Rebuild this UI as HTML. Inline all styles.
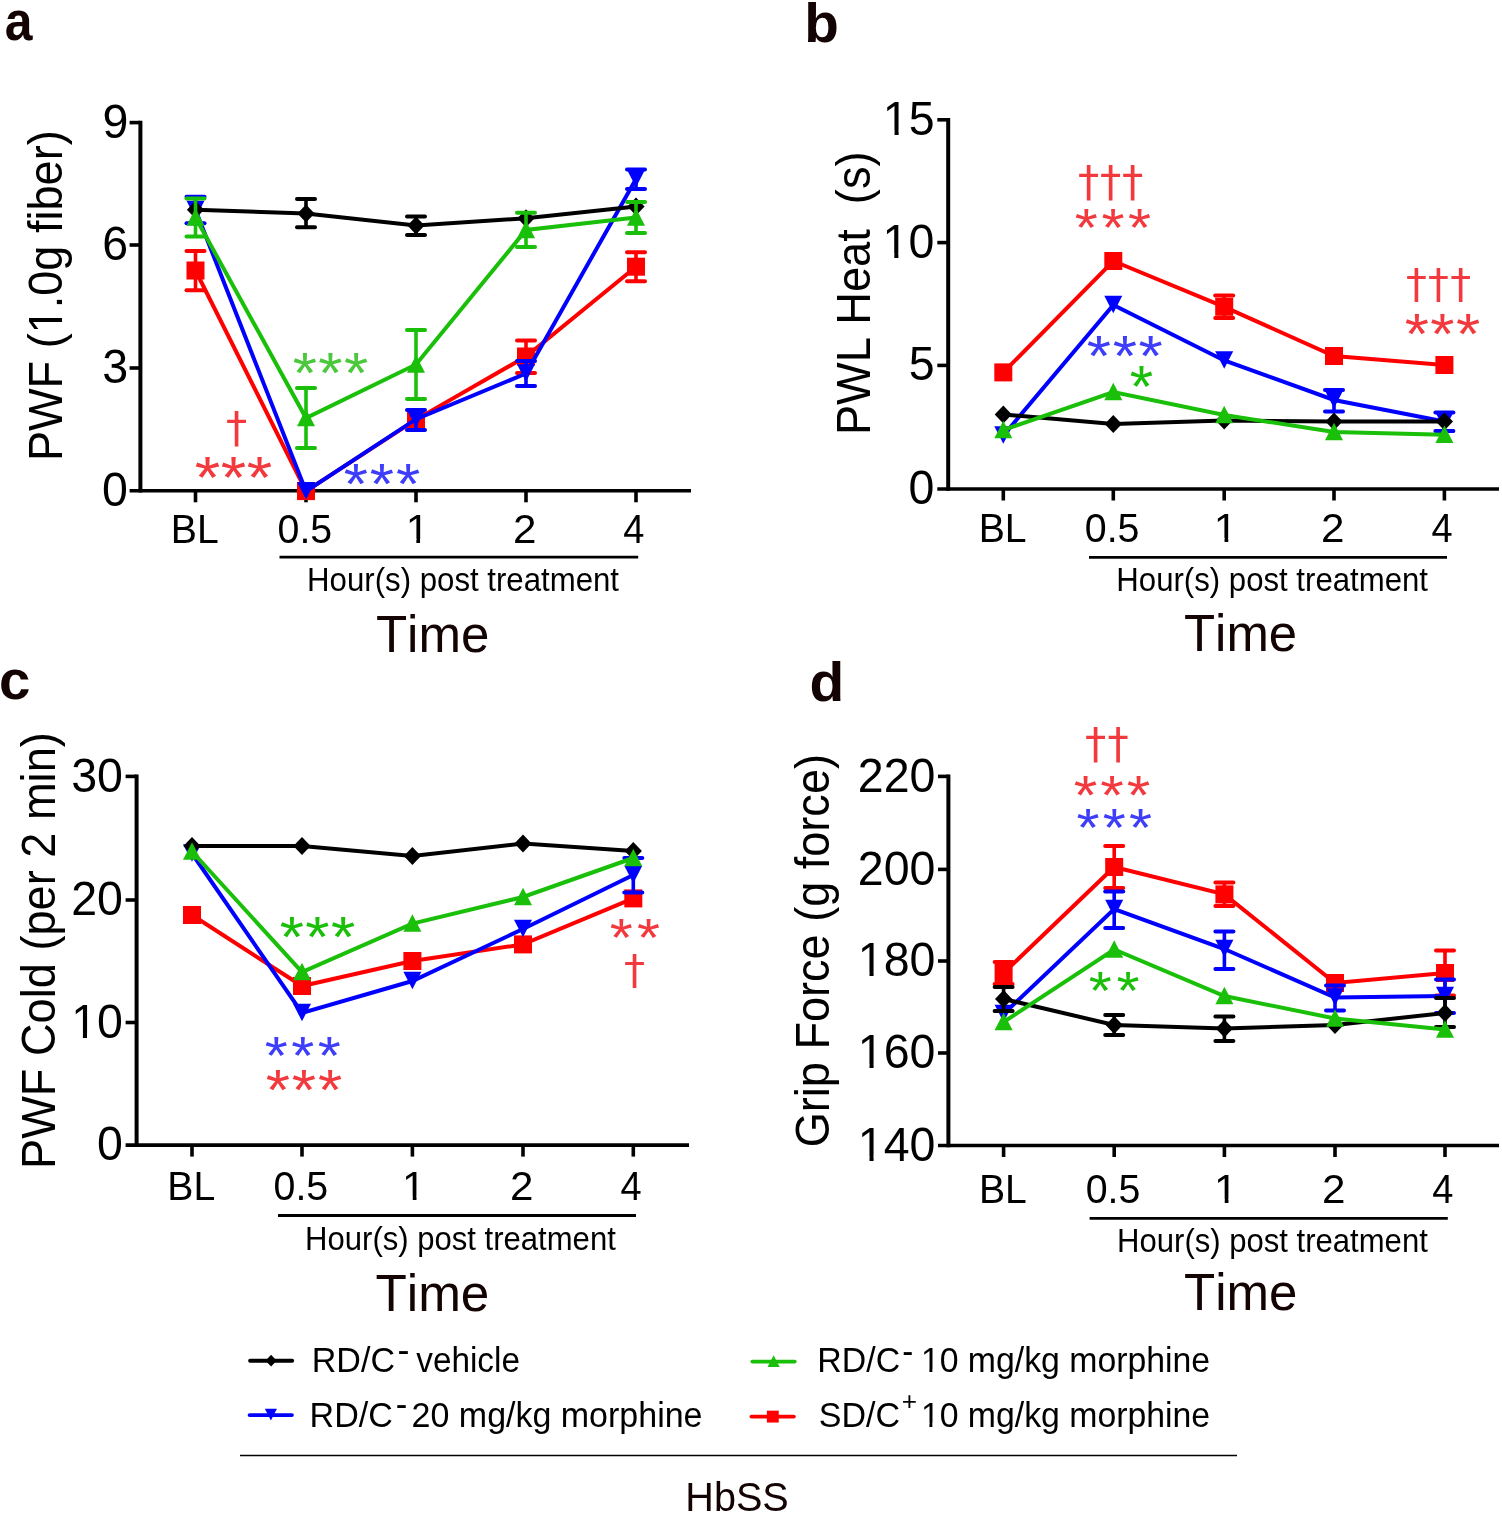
<!DOCTYPE html>
<html><head><meta charset="utf-8"><title>Figure</title>
<style>html,body{margin:0;padding:0;background:#fff;overflow:hidden}svg{display:block;}</style>
</head><body>
<svg width="1502" height="1514" viewBox="0 0 1502 1514" font-family="'Liberation Sans', Arial, sans-serif" style="font-kerning:none">
<rect width="1502" height="1514" fill="#fff"/>
<line x1="140.40" y1="120.70" x2="140.40" y2="492.60" stroke="#000" stroke-width="4.0" stroke-linecap="butt"/>
<line x1="129.60" y1="122.60" x2="140.40" y2="122.60" stroke="#000" stroke-width="3.6" stroke-linecap="butt"/>
<text transform="translate(102.58,137.83) scale(1.0000,1.0300)" font-size="46.5" fill="#000">9</text>
<line x1="129.60" y1="245.00" x2="140.40" y2="245.00" stroke="#000" stroke-width="3.6" stroke-linecap="butt"/>
<text transform="translate(102.35,260.23) scale(1.0000,1.0300)" font-size="46.5" fill="#000">6</text>
<line x1="129.60" y1="368.00" x2="140.40" y2="368.00" stroke="#000" stroke-width="3.6" stroke-linecap="butt"/>
<text transform="translate(102.35,383.23) scale(1.0000,1.0300)" font-size="46.5" fill="#000">3</text>
<text transform="translate(102.12,506.03) scale(1.0000,1.0300)" font-size="46.5" fill="#000">0</text>
<line x1="129.60" y1="490.80" x2="691.00" y2="490.80" stroke="#000" stroke-width="3.6" stroke-linecap="butt"/>
<line x1="195.50" y1="490.80" x2="195.50" y2="502.30" stroke="#000" stroke-width="3.6" stroke-linecap="butt"/>
<text transform="translate(170.86,542.50) scale(0.9797,1.0300)" font-size="40.0" fill="#000">BL</text>
<line x1="306.00" y1="490.80" x2="306.00" y2="502.30" stroke="#000" stroke-width="3.6" stroke-linecap="butt"/>
<text transform="translate(277.53,542.50) scale(0.9828,1.0300)" font-size="40.0" fill="#000">0.5</text>
<line x1="416.00" y1="490.80" x2="416.00" y2="502.30" stroke="#000" stroke-width="3.6" stroke-linecap="butt"/>
<clipPath id="k1"><path clip-rule="evenodd" d="M-5000,-5000H5000V5000H-5000Z M2.40,-3.60h7.66v4.40h-7.66Z M13.58,-3.60h7.62v4.40h-7.62Z"/></clipPath>
<text transform="translate(405.67,542.50) scale(1.0612,1.0300)" font-size="40.0" fill="#000" clip-path="url(#k1)">1</text>
<line x1="526.00" y1="490.80" x2="526.00" y2="502.30" stroke="#000" stroke-width="3.6" stroke-linecap="butt"/>
<text transform="translate(512.89,542.50) scale(1.0549,1.0300)" font-size="40.0" fill="#000">2</text>
<line x1="636.00" y1="490.80" x2="636.00" y2="502.30" stroke="#000" stroke-width="3.6" stroke-linecap="butt"/>
<text transform="translate(623.14,542.50) scale(0.9505,1.0300)" font-size="40.0" fill="#000">4</text>
<line x1="279.50" y1="557.10" x2="638.20" y2="557.10" stroke="#000" stroke-width="2.8" stroke-linecap="butt"/>
<text transform="translate(307.11,591.40) scale(0.9900,1.0300)" font-size="31.5" fill="#000">Hour(s) post treatment</text>
<text transform="translate(375.88,651.80) scale(1.0009,1.0300)" font-size="51" fill="#140303">Time</text>
<clipPath id="k2"><path clip-rule="evenodd" d="M-5000,-5000H5000V5000H-5000Z M135.97,-4.23h9.00v5.17h-9.00Z M149.11,-4.23h8.95v5.17h-8.95Z"/></clipPath>
<text transform="translate(62.20,461.11) rotate(-90) scale(0.9599,1.0300)" font-size="47" fill="#000" clip-path="url(#k2)">PWF (1.0g fiber)</text>
<text transform="translate(4.80,40.20) scale(0.8912,1.0000)" font-size="56" fill="#140303" font-weight="bold">a</text>
<polyline points="195.50,270.50 306.00,491.10 416.00,419.60 526.00,356.50 636.00,266.70" fill="none" stroke="#ff0000" stroke-width="4.0" stroke-linejoin="miter"/>
<line x1="195.50" y1="251.00" x2="195.50" y2="290.20" stroke="#ff0000" stroke-width="3.6" stroke-linecap="butt"/>
<line x1="186.50" y1="251.00" x2="204.50" y2="251.00" stroke="#ff0000" stroke-width="4" stroke-linecap="round"/>
<line x1="186.50" y1="290.20" x2="204.50" y2="290.20" stroke="#ff0000" stroke-width="4" stroke-linecap="round"/>
<rect x="186.50" y="261.50" width="18.00" height="18.00" fill="#ff0000"/>
<rect x="297.00" y="482.10" width="18.00" height="18.00" fill="#ff0000"/>
<rect x="407.00" y="410.60" width="18.00" height="18.00" fill="#ff0000"/>
<line x1="526.00" y1="340.50" x2="526.00" y2="373.00" stroke="#ff0000" stroke-width="3.6" stroke-linecap="butt"/>
<line x1="517.00" y1="340.50" x2="535.00" y2="340.50" stroke="#ff0000" stroke-width="4" stroke-linecap="round"/>
<line x1="517.00" y1="373.00" x2="535.00" y2="373.00" stroke="#ff0000" stroke-width="4" stroke-linecap="round"/>
<rect x="517.00" y="347.50" width="18.00" height="18.00" fill="#ff0000"/>
<line x1="636.00" y1="252.20" x2="636.00" y2="281.30" stroke="#ff0000" stroke-width="3.6" stroke-linecap="butt"/>
<line x1="627.00" y1="252.20" x2="645.00" y2="252.20" stroke="#ff0000" stroke-width="4" stroke-linecap="round"/>
<line x1="627.00" y1="281.30" x2="645.00" y2="281.30" stroke="#ff0000" stroke-width="4" stroke-linecap="round"/>
<rect x="627.00" y="257.70" width="18.00" height="18.00" fill="#ff0000"/>
<polyline points="195.50,210.00 306.00,491.20 416.00,419.20 526.00,373.50 636.00,179.00" fill="none" stroke="#0000ff" stroke-width="4.0" stroke-linejoin="miter"/>
<line x1="195.50" y1="196.70" x2="195.50" y2="223.20" stroke="#0000ff" stroke-width="3.6" stroke-linecap="butt"/>
<line x1="186.50" y1="196.70" x2="204.50" y2="196.70" stroke="#0000ff" stroke-width="4" stroke-linecap="round"/>
<line x1="186.50" y1="223.20" x2="204.50" y2="223.20" stroke="#0000ff" stroke-width="4" stroke-linecap="round"/>
<polygon points="195.50,218.25 204.50,200.75 186.50,200.75" fill="#0000ff"/>
<polygon points="306.00,499.45 315.00,481.95 297.00,481.95" fill="#0000ff"/>
<line x1="416.00" y1="410.00" x2="416.00" y2="430.00" stroke="#0000ff" stroke-width="3.6" stroke-linecap="butt"/>
<line x1="407.00" y1="410.00" x2="425.00" y2="410.00" stroke="#0000ff" stroke-width="4" stroke-linecap="round"/>
<line x1="407.00" y1="430.00" x2="425.00" y2="430.00" stroke="#0000ff" stroke-width="4" stroke-linecap="round"/>
<polygon points="416.00,427.45 425.00,409.95 407.00,409.95" fill="#0000ff"/>
<line x1="526.00" y1="361.00" x2="526.00" y2="386.00" stroke="#0000ff" stroke-width="3.6" stroke-linecap="butt"/>
<line x1="517.00" y1="361.00" x2="535.00" y2="361.00" stroke="#0000ff" stroke-width="4" stroke-linecap="round"/>
<line x1="517.00" y1="386.00" x2="535.00" y2="386.00" stroke="#0000ff" stroke-width="4" stroke-linecap="round"/>
<polygon points="526.00,381.75 535.00,364.25 517.00,364.25" fill="#0000ff"/>
<line x1="636.00" y1="169.60" x2="636.00" y2="189.00" stroke="#0000ff" stroke-width="3.6" stroke-linecap="butt"/>
<line x1="627.00" y1="169.60" x2="645.00" y2="169.60" stroke="#0000ff" stroke-width="4" stroke-linecap="round"/>
<line x1="627.00" y1="189.00" x2="645.00" y2="189.00" stroke="#0000ff" stroke-width="4" stroke-linecap="round"/>
<polygon points="636.00,187.25 645.00,169.75 627.00,169.75" fill="#0000ff"/>
<polyline points="195.50,209.70 306.00,213.50 416.00,225.50 526.00,218.30 636.00,206.50" fill="none" stroke="#000" stroke-width="4.0" stroke-linejoin="miter"/>
<polygon points="195.50,200.70 204.10,209.70 195.50,218.70 186.90,209.70" fill="#000"/>
<line x1="306.00" y1="199.00" x2="306.00" y2="227.20" stroke="#000" stroke-width="3.6" stroke-linecap="butt"/>
<line x1="297.00" y1="199.00" x2="315.00" y2="199.00" stroke="#000" stroke-width="4" stroke-linecap="round"/>
<line x1="297.00" y1="227.20" x2="315.00" y2="227.20" stroke="#000" stroke-width="4" stroke-linecap="round"/>
<polygon points="306.00,204.50 314.60,213.50 306.00,222.50 297.40,213.50" fill="#000"/>
<line x1="416.00" y1="216.60" x2="416.00" y2="235.00" stroke="#000" stroke-width="3.6" stroke-linecap="butt"/>
<line x1="407.00" y1="216.60" x2="425.00" y2="216.60" stroke="#000" stroke-width="4" stroke-linecap="round"/>
<line x1="407.00" y1="235.00" x2="425.00" y2="235.00" stroke="#000" stroke-width="4" stroke-linecap="round"/>
<polygon points="416.00,216.50 424.60,225.50 416.00,234.50 407.40,225.50" fill="#000"/>
<polygon points="526.00,209.30 534.60,218.30 526.00,227.30 517.40,218.30" fill="#000"/>
<polygon points="636.00,197.50 644.60,206.50 636.00,215.50 627.40,206.50" fill="#000"/>
<polyline points="195.50,217.50 306.00,418.00 416.00,364.50 526.00,230.00 636.00,217.50" fill="none" stroke="#19bf08" stroke-width="4.0" stroke-linejoin="miter"/>
<line x1="195.50" y1="198.40" x2="195.50" y2="236.50" stroke="#19bf08" stroke-width="3.6" stroke-linecap="butt"/>
<line x1="186.50" y1="198.40" x2="204.50" y2="198.40" stroke="#19bf08" stroke-width="4" stroke-linecap="round"/>
<line x1="186.50" y1="236.50" x2="204.50" y2="236.50" stroke="#19bf08" stroke-width="4" stroke-linecap="round"/>
<polygon points="195.50,208.25 204.50,225.75 186.50,225.75" fill="#19bf08"/>
<line x1="306.00" y1="388.00" x2="306.00" y2="448.00" stroke="#19bf08" stroke-width="3.6" stroke-linecap="butt"/>
<line x1="297.00" y1="388.00" x2="315.00" y2="388.00" stroke="#19bf08" stroke-width="4" stroke-linecap="round"/>
<line x1="297.00" y1="448.00" x2="315.00" y2="448.00" stroke="#19bf08" stroke-width="4" stroke-linecap="round"/>
<polygon points="306.00,408.75 315.00,426.25 297.00,426.25" fill="#19bf08"/>
<line x1="416.00" y1="330.00" x2="416.00" y2="399.00" stroke="#19bf08" stroke-width="3.6" stroke-linecap="butt"/>
<line x1="407.00" y1="330.00" x2="425.00" y2="330.00" stroke="#19bf08" stroke-width="4" stroke-linecap="round"/>
<line x1="407.00" y1="399.00" x2="425.00" y2="399.00" stroke="#19bf08" stroke-width="4" stroke-linecap="round"/>
<polygon points="416.00,355.25 425.00,372.75 407.00,372.75" fill="#19bf08"/>
<line x1="526.00" y1="212.80" x2="526.00" y2="247.00" stroke="#19bf08" stroke-width="3.6" stroke-linecap="butt"/>
<line x1="517.00" y1="212.80" x2="535.00" y2="212.80" stroke="#19bf08" stroke-width="4" stroke-linecap="round"/>
<line x1="517.00" y1="247.00" x2="535.00" y2="247.00" stroke="#19bf08" stroke-width="4" stroke-linecap="round"/>
<polygon points="526.00,220.75 535.00,238.25 517.00,238.25" fill="#19bf08"/>
<line x1="636.00" y1="202.00" x2="636.00" y2="233.00" stroke="#19bf08" stroke-width="3.6" stroke-linecap="butt"/>
<line x1="627.00" y1="202.00" x2="645.00" y2="202.00" stroke="#19bf08" stroke-width="4" stroke-linecap="round"/>
<line x1="627.00" y1="233.00" x2="645.00" y2="233.00" stroke="#19bf08" stroke-width="4" stroke-linecap="round"/>
<polygon points="636.00,208.25 645.00,225.75 627.00,225.75" fill="#19bf08"/>
<text transform="translate(194.69,498.40) scale(1.0900,1)" font-size="60.00" fill="#f23a3e" letter-spacing="0.56">***</text>
<text transform="translate(225.94,441.97) scale(0.9952,1)" font-size="42.42" fill="#f23a3e" font-family="'DejaVu Sans', 'Liberation Sans', sans-serif">†</text>
<text transform="translate(292.75,393.43) scale(1.0900,1)" font-size="57.14" fill="#4bc83c" letter-spacing="1.26">***</text>
<text transform="translate(343.75,504.43) scale(1.0900,1)" font-size="57.14" fill="#3d3dfa" letter-spacing="1.72">***</text>
<line x1="948.20" y1="118.00" x2="948.20" y2="490.80" stroke="#000" stroke-width="4.0" stroke-linecap="butt"/>
<line x1="937.30" y1="119.80" x2="948.20" y2="119.80" stroke="#000" stroke-width="3.6" stroke-linecap="butt"/>
<clipPath id="k3"><path clip-rule="evenodd" d="M-5000,-5000H5000V5000H-5000Z M2.79,-4.18h8.90v5.11h-8.90Z M15.79,-4.18h8.86v5.11h-8.86Z"/></clipPath>
<text transform="translate(882.85,134.80) scale(1.0000,1.0300)" font-size="46.5" fill="#000" clip-path="url(#k3)">15</text>
<line x1="937.30" y1="242.60" x2="948.20" y2="242.60" stroke="#000" stroke-width="3.6" stroke-linecap="butt"/>
<clipPath id="k4"><path clip-rule="evenodd" d="M-5000,-5000H5000V5000H-5000Z M2.79,-4.18h8.90v5.11h-8.90Z M15.79,-4.18h8.86v5.11h-8.86Z"/></clipPath>
<text transform="translate(882.61,257.83) scale(1.0000,1.0300)" font-size="46.5" fill="#000" clip-path="url(#k4)">10</text>
<line x1="937.30" y1="365.40" x2="948.20" y2="365.40" stroke="#000" stroke-width="3.6" stroke-linecap="butt"/>
<text transform="translate(908.65,380.40) scale(1.0000,1.0300)" font-size="46.5" fill="#000">5</text>
<text transform="translate(908.42,504.23) scale(1.0000,1.0300)" font-size="46.5" fill="#000">0</text>
<line x1="937.30" y1="489.00" x2="1499.00" y2="489.00" stroke="#000" stroke-width="3.6" stroke-linecap="butt"/>
<line x1="1003.30" y1="489.00" x2="1003.30" y2="500.50" stroke="#000" stroke-width="3.6" stroke-linecap="butt"/>
<text transform="translate(978.66,541.70) scale(0.9797,1.0300)" font-size="40.0" fill="#000">BL</text>
<line x1="1113.30" y1="489.00" x2="1113.30" y2="500.50" stroke="#000" stroke-width="3.6" stroke-linecap="butt"/>
<text transform="translate(1084.83,541.70) scale(0.9828,1.0300)" font-size="40.0" fill="#000">0.5</text>
<line x1="1224.20" y1="489.00" x2="1224.20" y2="500.50" stroke="#000" stroke-width="3.6" stroke-linecap="butt"/>
<clipPath id="k5"><path clip-rule="evenodd" d="M-5000,-5000H5000V5000H-5000Z M2.40,-3.60h7.66v4.40h-7.66Z M13.58,-3.60h7.62v4.40h-7.62Z"/></clipPath>
<text transform="translate(1213.87,541.70) scale(1.0612,1.0300)" font-size="40.0" fill="#000" clip-path="url(#k5)">1</text>
<line x1="1334.00" y1="489.00" x2="1334.00" y2="500.50" stroke="#000" stroke-width="3.6" stroke-linecap="butt"/>
<text transform="translate(1320.89,541.70) scale(1.0549,1.0300)" font-size="40.0" fill="#000">2</text>
<line x1="1444.40" y1="489.00" x2="1444.40" y2="500.50" stroke="#000" stroke-width="3.6" stroke-linecap="butt"/>
<text transform="translate(1431.54,541.70) scale(0.9505,1.0300)" font-size="40.0" fill="#000">4</text>
<line x1="1089.00" y1="557.40" x2="1447.00" y2="557.40" stroke="#000" stroke-width="2.8" stroke-linecap="butt"/>
<text transform="translate(1116.31,591.20) scale(0.9896,1.0300)" font-size="31.5" fill="#000">Hour(s) post treatment</text>
<text transform="translate(1183.98,651.00) scale(0.9981,1.0300)" font-size="51" fill="#140303">Time</text>
<text transform="translate(870.00,435.12) rotate(-90) scale(0.9719,1.0300)" font-size="46.5" fill="#000">PWL Heat  (s)</text>
<text transform="translate(804.32,41.70) scale(1.0113,1.0000)" font-size="56" fill="#140303" font-weight="bold">b</text>
<polyline points="1003.30,372.40 1113.30,261.00 1224.20,306.80 1334.00,356.00 1444.40,365.00" fill="none" stroke="#ff0000" stroke-width="4.0" stroke-linejoin="miter"/>
<rect x="994.30" y="363.40" width="18.00" height="18.00" fill="#ff0000"/>
<rect x="1104.30" y="252.00" width="18.00" height="18.00" fill="#ff0000"/>
<line x1="1224.20" y1="295.60" x2="1224.20" y2="318.00" stroke="#ff0000" stroke-width="3.6" stroke-linecap="butt"/>
<line x1="1215.20" y1="295.60" x2="1233.20" y2="295.60" stroke="#ff0000" stroke-width="4" stroke-linecap="round"/>
<line x1="1215.20" y1="318.00" x2="1233.20" y2="318.00" stroke="#ff0000" stroke-width="4" stroke-linecap="round"/>
<rect x="1215.20" y="297.80" width="18.00" height="18.00" fill="#ff0000"/>
<rect x="1325.00" y="347.00" width="18.00" height="18.00" fill="#ff0000"/>
<rect x="1435.40" y="356.00" width="18.00" height="18.00" fill="#ff0000"/>
<polyline points="1003.30,435.50 1113.30,305.00 1224.20,360.50 1334.00,400.00 1444.40,421.50" fill="none" stroke="#0000ff" stroke-width="4.0" stroke-linejoin="miter"/>
<polygon points="1003.30,443.75 1012.30,426.25 994.30,426.25" fill="#0000ff"/>
<polygon points="1113.30,313.25 1122.30,295.75 1104.30,295.75" fill="#0000ff"/>
<polygon points="1224.20,368.75 1233.20,351.25 1215.20,351.25" fill="#0000ff"/>
<line x1="1334.00" y1="390.00" x2="1334.00" y2="411.60" stroke="#0000ff" stroke-width="3.6" stroke-linecap="butt"/>
<line x1="1325.00" y1="390.00" x2="1343.00" y2="390.00" stroke="#0000ff" stroke-width="4" stroke-linecap="round"/>
<line x1="1325.00" y1="411.60" x2="1343.00" y2="411.60" stroke="#0000ff" stroke-width="4" stroke-linecap="round"/>
<polygon points="1334.00,408.25 1343.00,390.75 1325.00,390.75" fill="#0000ff"/>
<line x1="1444.40" y1="412.40" x2="1444.40" y2="431.00" stroke="#0000ff" stroke-width="3.6" stroke-linecap="butt"/>
<line x1="1435.40" y1="412.40" x2="1453.40" y2="412.40" stroke="#0000ff" stroke-width="4" stroke-linecap="round"/>
<line x1="1435.40" y1="431.00" x2="1453.40" y2="431.00" stroke="#0000ff" stroke-width="4" stroke-linecap="round"/>
<polygon points="1444.40,429.75 1453.40,412.25 1435.40,412.25" fill="#0000ff"/>
<polyline points="1003.30,414.40 1113.30,424.00 1224.20,420.50 1334.00,421.60 1444.40,421.60" fill="none" stroke="#000" stroke-width="4.0" stroke-linejoin="miter"/>
<polygon points="1003.30,405.40 1011.90,414.40 1003.30,423.40 994.70,414.40" fill="#000"/>
<polygon points="1113.30,415.00 1121.90,424.00 1113.30,433.00 1104.70,424.00" fill="#000"/>
<polygon points="1224.20,411.50 1232.80,420.50 1224.20,429.50 1215.60,420.50" fill="#000"/>
<polygon points="1334.00,412.60 1342.60,421.60 1334.00,430.60 1325.40,421.60" fill="#000"/>
<polygon points="1444.40,412.60 1453.00,421.60 1444.40,430.60 1435.80,421.60" fill="#000"/>
<polyline points="1003.30,430.00 1113.30,392.00 1224.20,415.00 1334.00,432.00 1444.40,434.80" fill="none" stroke="#19bf08" stroke-width="4.0" stroke-linejoin="miter"/>
<polygon points="1003.30,420.75 1012.30,438.25 994.30,438.25" fill="#19bf08"/>
<polygon points="1113.30,382.75 1122.30,400.25 1104.30,400.25" fill="#19bf08"/>
<polygon points="1224.20,405.75 1233.20,423.25 1215.20,423.25" fill="#19bf08"/>
<polygon points="1334.00,422.75 1343.00,440.25 1325.00,440.25" fill="#19bf08"/>
<polygon points="1444.40,425.55 1453.40,443.05 1435.40,443.05" fill="#19bf08"/>
<text transform="translate(1077.94,195.86) scale(1.0000,1)" font-size="42.55" fill="#f23a3e" font-family="'DejaVu Sans', 'Liberation Sans', sans-serif" letter-spacing="0.75">†††</text>
<text transform="translate(1074.82,246.46) scale(1.0900,1)" font-size="54.29" fill="#f23a3e" letter-spacing="3.33">***</text>
<text transform="translate(1086.75,376.43) scale(1.0900,1)" font-size="57.14" fill="#3d3dfa" letter-spacing="1.53">***</text>
<text transform="translate(1129.80,407.40) scale(1.0000,1)" font-size="60.00" fill="#19bf08">*</text>
<text transform="translate(1405.96,298.04) scale(1.0000,1)" font-size="41.70" fill="#f23a3e" font-family="'DejaVu Sans', 'Liberation Sans', sans-serif" letter-spacing="1.27">†††</text>
<text transform="translate(1404.75,354.43) scale(1.0900,1)" font-size="57.14" fill="#f23a3e" letter-spacing="1.26">***</text>
<line x1="136.60" y1="774.60" x2="136.60" y2="1146.90" stroke="#000" stroke-width="4.0" stroke-linecap="butt"/>
<line x1="125.60" y1="776.40" x2="136.60" y2="776.40" stroke="#000" stroke-width="3.6" stroke-linecap="butt"/>
<text transform="translate(71.21,791.63) scale(1.0000,1.0300)" font-size="46.5" fill="#000">30</text>
<line x1="125.60" y1="900.00" x2="136.60" y2="900.00" stroke="#000" stroke-width="3.6" stroke-linecap="butt"/>
<text transform="translate(71.21,915.23) scale(1.0000,1.0300)" font-size="46.5" fill="#000">20</text>
<line x1="125.60" y1="1022.50" x2="136.60" y2="1022.50" stroke="#000" stroke-width="3.6" stroke-linecap="butt"/>
<clipPath id="k6"><path clip-rule="evenodd" d="M-5000,-5000H5000V5000H-5000Z M2.79,-4.18h8.90v5.11h-8.90Z M15.79,-4.18h8.86v5.11h-8.86Z"/></clipPath>
<text transform="translate(71.21,1037.73) scale(1.0000,1.0300)" font-size="46.5" fill="#000" clip-path="url(#k6)">10</text>
<text transform="translate(97.02,1160.33) scale(1.0000,1.0300)" font-size="46.5" fill="#000">0</text>
<line x1="125.60" y1="1145.10" x2="689.00" y2="1145.10" stroke="#000" stroke-width="3.6" stroke-linecap="butt"/>
<line x1="192.00" y1="1145.10" x2="192.00" y2="1156.60" stroke="#000" stroke-width="3.6" stroke-linecap="butt"/>
<text transform="translate(167.36,1200.00) scale(0.9797,1.0300)" font-size="40.0" fill="#000">BL</text>
<line x1="302.00" y1="1145.10" x2="302.00" y2="1156.60" stroke="#000" stroke-width="3.6" stroke-linecap="butt"/>
<text transform="translate(273.53,1200.00) scale(0.9828,1.0300)" font-size="40.0" fill="#000">0.5</text>
<line x1="412.40" y1="1145.10" x2="412.40" y2="1156.60" stroke="#000" stroke-width="3.6" stroke-linecap="butt"/>
<clipPath id="k7"><path clip-rule="evenodd" d="M-5000,-5000H5000V5000H-5000Z M2.40,-3.60h7.66v4.40h-7.66Z M13.58,-3.60h7.62v4.40h-7.62Z"/></clipPath>
<text transform="translate(402.07,1200.00) scale(1.0612,1.0300)" font-size="40.0" fill="#000" clip-path="url(#k7)">1</text>
<line x1="523.00" y1="1145.10" x2="523.00" y2="1156.60" stroke="#000" stroke-width="3.6" stroke-linecap="butt"/>
<text transform="translate(509.89,1200.00) scale(1.0549,1.0300)" font-size="40.0" fill="#000">2</text>
<line x1="633.30" y1="1145.10" x2="633.30" y2="1156.60" stroke="#000" stroke-width="3.6" stroke-linecap="butt"/>
<text transform="translate(620.44,1200.00) scale(0.9505,1.0300)" font-size="40.0" fill="#000">4</text>
<line x1="278.00" y1="1215.50" x2="636.00" y2="1215.50" stroke="#000" stroke-width="2.8" stroke-linecap="butt"/>
<text transform="translate(305.11,1250.00) scale(0.9864,1.0300)" font-size="31.5" fill="#000">Hour(s) post treatment</text>
<text transform="translate(375.47,1310.80) scale(1.0054,1.0300)" font-size="51" fill="#140303">Time</text>
<text transform="translate(54.70,1168.91) rotate(-90) scale(0.9612,1.0300)" font-size="47" fill="#000">PWF Cold (per 2 min)</text>
<text transform="translate(-1.06,699.00) scale(1.0088,1.0000)" font-size="56" fill="#140303" font-weight="bold">c</text>
<polyline points="192.00,915.00 302.00,986.00 412.40,961.00 523.00,944.40 633.30,898.40" fill="none" stroke="#ff0000" stroke-width="4.0" stroke-linejoin="miter"/>
<rect x="183.00" y="906.00" width="18.00" height="18.00" fill="#ff0000"/>
<rect x="293.00" y="977.00" width="18.00" height="18.00" fill="#ff0000"/>
<rect x="403.40" y="952.00" width="18.00" height="18.00" fill="#ff0000"/>
<rect x="514.00" y="935.40" width="18.00" height="18.00" fill="#ff0000"/>
<rect x="624.30" y="889.40" width="18.00" height="18.00" fill="#ff0000"/>
<polyline points="192.00,853.50 302.00,1013.00 412.40,981.00 523.00,929.00 633.30,875.00" fill="none" stroke="#0000ff" stroke-width="4.0" stroke-linejoin="miter"/>
<polygon points="192.00,861.75 201.00,844.25 183.00,844.25" fill="#0000ff"/>
<polygon points="302.00,1021.25 311.00,1003.75 293.00,1003.75" fill="#0000ff"/>
<polygon points="412.40,989.25 421.40,971.75 403.40,971.75" fill="#0000ff"/>
<polygon points="523.00,937.25 532.00,919.75 514.00,919.75" fill="#0000ff"/>
<line x1="633.30" y1="858.00" x2="633.30" y2="892.40" stroke="#0000ff" stroke-width="3.6" stroke-linecap="butt"/>
<line x1="624.30" y1="858.00" x2="642.30" y2="858.00" stroke="#0000ff" stroke-width="4" stroke-linecap="round"/>
<line x1="624.30" y1="892.40" x2="642.30" y2="892.40" stroke="#0000ff" stroke-width="4" stroke-linecap="round"/>
<polygon points="633.30,883.25 642.30,865.75 624.30,865.75" fill="#0000ff"/>
<polyline points="192.00,846.00 302.00,846.00 412.40,856.00 523.00,843.60 633.30,851.00" fill="none" stroke="#000" stroke-width="4.0" stroke-linejoin="miter"/>
<polygon points="192.00,837.00 200.60,846.00 192.00,855.00 183.40,846.00" fill="#000"/>
<polygon points="302.00,837.00 310.60,846.00 302.00,855.00 293.40,846.00" fill="#000"/>
<polygon points="412.40,847.00 421.00,856.00 412.40,865.00 403.80,856.00" fill="#000"/>
<polygon points="523.00,834.60 531.60,843.60 523.00,852.60 514.40,843.60" fill="#000"/>
<polygon points="633.30,842.00 641.90,851.00 633.30,860.00 624.70,851.00" fill="#000"/>
<polyline points="192.00,851.50 302.00,972.00 412.40,923.60 523.00,897.00 633.30,858.00" fill="none" stroke="#19bf08" stroke-width="4.0" stroke-linejoin="miter"/>
<polygon points="192.00,842.25 201.00,859.75 183.00,859.75" fill="#19bf08"/>
<polygon points="302.00,962.75 311.00,980.25 293.00,980.25" fill="#19bf08"/>
<polygon points="412.40,914.35 421.40,931.85 403.40,931.85" fill="#19bf08"/>
<polygon points="523.00,887.75 532.00,905.25 514.00,905.25" fill="#19bf08"/>
<polygon points="633.30,848.75 642.30,866.25 624.30,866.25" fill="#19bf08"/>
<text transform="translate(279.75,957.43) scale(1.0900,1)" font-size="57.14" fill="#19bf08" letter-spacing="1.26">***</text>
<text transform="translate(264.82,1074.46) scale(1.0900,1)" font-size="54.29" fill="#3d3dfa" letter-spacing="3.14">***</text>
<text transform="translate(265.75,1110.43) scale(1.0900,1)" font-size="57.14" fill="#f23a3e" letter-spacing="1.72">***</text>
<text transform="translate(609.82,956.46) scale(1.0900,1)" font-size="54.29" fill="#f23a3e" letter-spacing="3.92">**</text>
<text transform="translate(623.94,984.04) scale(1.0126,1)" font-size="41.70" fill="#f23a3e" font-family="'DejaVu Sans', 'Liberation Sans', sans-serif">†</text>
<line x1="948.40" y1="774.60" x2="948.40" y2="1147.30" stroke="#000" stroke-width="4.0" stroke-linecap="butt"/>
<line x1="938.00" y1="776.40" x2="948.40" y2="776.40" stroke="#000" stroke-width="3.6" stroke-linecap="butt"/>
<text transform="translate(857.80,791.63) scale(1.0000,1.0300)" font-size="46.5" fill="#000">220</text>
<line x1="938.00" y1="869.40" x2="948.40" y2="869.40" stroke="#000" stroke-width="3.6" stroke-linecap="butt"/>
<text transform="translate(857.80,884.63) scale(1.0000,1.0300)" font-size="46.5" fill="#000">200</text>
<line x1="938.00" y1="961.00" x2="948.40" y2="961.00" stroke="#000" stroke-width="3.6" stroke-linecap="butt"/>
<clipPath id="k8"><path clip-rule="evenodd" d="M-5000,-5000H5000V5000H-5000Z M2.79,-4.18h8.90v5.11h-8.90Z M15.79,-4.18h8.86v5.11h-8.86Z"/></clipPath>
<text transform="translate(857.81,976.23) scale(1.0000,1.0300)" font-size="46.5" fill="#000" clip-path="url(#k8)">180</text>
<line x1="938.00" y1="1053.00" x2="948.40" y2="1053.00" stroke="#000" stroke-width="3.6" stroke-linecap="butt"/>
<clipPath id="k9"><path clip-rule="evenodd" d="M-5000,-5000H5000V5000H-5000Z M2.79,-4.18h8.90v5.11h-8.90Z M15.79,-4.18h8.86v5.11h-8.86Z"/></clipPath>
<text transform="translate(857.81,1068.23) scale(1.0000,1.0300)" font-size="46.5" fill="#000" clip-path="url(#k9)">160</text>
<clipPath id="k10"><path clip-rule="evenodd" d="M-5000,-5000H5000V5000H-5000Z M2.79,-4.18h8.90v5.11h-8.90Z M15.79,-4.18h8.86v5.11h-8.86Z"/></clipPath>
<text transform="translate(857.81,1160.73) scale(1.0000,1.0300)" font-size="46.5" fill="#000" clip-path="url(#k10)">140</text>
<line x1="938.00" y1="1145.50" x2="1499.00" y2="1145.50" stroke="#000" stroke-width="3.6" stroke-linecap="butt"/>
<line x1="1003.60" y1="1145.50" x2="1003.60" y2="1157.00" stroke="#000" stroke-width="3.6" stroke-linecap="butt"/>
<text transform="translate(978.96,1203.00) scale(0.9797,1.0300)" font-size="40.0" fill="#000">BL</text>
<line x1="1114.20" y1="1145.50" x2="1114.20" y2="1157.00" stroke="#000" stroke-width="3.6" stroke-linecap="butt"/>
<text transform="translate(1085.73,1203.00) scale(0.9828,1.0300)" font-size="40.0" fill="#000">0.5</text>
<line x1="1224.40" y1="1145.50" x2="1224.40" y2="1157.00" stroke="#000" stroke-width="3.6" stroke-linecap="butt"/>
<clipPath id="k11"><path clip-rule="evenodd" d="M-5000,-5000H5000V5000H-5000Z M2.40,-3.60h7.66v4.40h-7.66Z M13.58,-3.60h7.62v4.40h-7.62Z"/></clipPath>
<text transform="translate(1214.07,1203.00) scale(1.0612,1.0300)" font-size="40.0" fill="#000" clip-path="url(#k11)">1</text>
<line x1="1335.00" y1="1145.50" x2="1335.00" y2="1157.00" stroke="#000" stroke-width="3.6" stroke-linecap="butt"/>
<text transform="translate(1321.89,1203.00) scale(1.0549,1.0300)" font-size="40.0" fill="#000">2</text>
<line x1="1445.00" y1="1145.50" x2="1445.00" y2="1157.00" stroke="#000" stroke-width="3.6" stroke-linecap="butt"/>
<text transform="translate(1432.14,1203.00) scale(0.9505,1.0300)" font-size="40.0" fill="#000">4</text>
<line x1="1089.60" y1="1218.40" x2="1447.80" y2="1218.40" stroke="#000" stroke-width="2.8" stroke-linecap="butt"/>
<text transform="translate(1117.11,1252.30) scale(0.9864,1.0300)" font-size="31.5" fill="#000">Hour(s) post treatment</text>
<text transform="translate(1183.98,1310.20) scale(1.0000,1.0300)" font-size="51" fill="#140303">Time</text>
<text transform="translate(828.60,1147.25) rotate(-90) scale(0.9592,1.0300)" font-size="47" fill="#000">Grip Force (g force)</text>
<text transform="translate(809.53,700.90) scale(1.0149,1.0000)" font-size="56" fill="#140303" font-weight="bold">d</text>
<polyline points="1003.60,973.00 1114.20,867.00 1224.40,894.40 1335.00,983.00 1445.00,973.00" fill="none" stroke="#ff0000" stroke-width="4.0" stroke-linejoin="miter"/>
<line x1="1003.60" y1="962.00" x2="1003.60" y2="984.00" stroke="#ff0000" stroke-width="3.6" stroke-linecap="butt"/>
<line x1="994.60" y1="962.00" x2="1012.60" y2="962.00" stroke="#ff0000" stroke-width="4" stroke-linecap="round"/>
<line x1="994.60" y1="984.00" x2="1012.60" y2="984.00" stroke="#ff0000" stroke-width="4" stroke-linecap="round"/>
<rect x="994.60" y="964.00" width="18.00" height="18.00" fill="#ff0000"/>
<line x1="1114.20" y1="846.00" x2="1114.20" y2="888.00" stroke="#ff0000" stroke-width="3.6" stroke-linecap="butt"/>
<line x1="1105.20" y1="846.00" x2="1123.20" y2="846.00" stroke="#ff0000" stroke-width="4" stroke-linecap="round"/>
<line x1="1105.20" y1="888.00" x2="1123.20" y2="888.00" stroke="#ff0000" stroke-width="4" stroke-linecap="round"/>
<rect x="1105.20" y="858.00" width="18.00" height="18.00" fill="#ff0000"/>
<line x1="1224.40" y1="882.40" x2="1224.40" y2="906.00" stroke="#ff0000" stroke-width="3.6" stroke-linecap="butt"/>
<line x1="1215.40" y1="882.40" x2="1233.40" y2="882.40" stroke="#ff0000" stroke-width="4" stroke-linecap="round"/>
<line x1="1215.40" y1="906.00" x2="1233.40" y2="906.00" stroke="#ff0000" stroke-width="4" stroke-linecap="round"/>
<rect x="1215.40" y="885.40" width="18.00" height="18.00" fill="#ff0000"/>
<rect x="1326.00" y="974.00" width="18.00" height="18.00" fill="#ff0000"/>
<line x1="1445.00" y1="950.40" x2="1445.00" y2="995.60" stroke="#ff0000" stroke-width="3.6" stroke-linecap="butt"/>
<line x1="1436.00" y1="950.40" x2="1454.00" y2="950.40" stroke="#ff0000" stroke-width="4" stroke-linecap="round"/>
<line x1="1436.00" y1="995.60" x2="1454.00" y2="995.60" stroke="#ff0000" stroke-width="4" stroke-linecap="round"/>
<rect x="1436.00" y="964.00" width="18.00" height="18.00" fill="#ff0000"/>
<polyline points="1003.60,1014.00 1114.20,909.00 1224.40,949.00 1335.00,997.60 1445.00,996.00" fill="none" stroke="#0000ff" stroke-width="4.0" stroke-linejoin="miter"/>
<polygon points="1003.60,1022.25 1012.60,1004.75 994.60,1004.75" fill="#0000ff"/>
<line x1="1114.20" y1="891.60" x2="1114.20" y2="928.00" stroke="#0000ff" stroke-width="3.6" stroke-linecap="butt"/>
<line x1="1105.20" y1="891.60" x2="1123.20" y2="891.60" stroke="#0000ff" stroke-width="4" stroke-linecap="round"/>
<line x1="1105.20" y1="928.00" x2="1123.20" y2="928.00" stroke="#0000ff" stroke-width="4" stroke-linecap="round"/>
<polygon points="1114.20,917.25 1123.20,899.75 1105.20,899.75" fill="#0000ff"/>
<line x1="1224.40" y1="931.40" x2="1224.40" y2="969.00" stroke="#0000ff" stroke-width="3.6" stroke-linecap="butt"/>
<line x1="1215.40" y1="931.40" x2="1233.40" y2="931.40" stroke="#0000ff" stroke-width="4" stroke-linecap="round"/>
<line x1="1215.40" y1="969.00" x2="1233.40" y2="969.00" stroke="#0000ff" stroke-width="4" stroke-linecap="round"/>
<polygon points="1224.40,957.25 1233.40,939.75 1215.40,939.75" fill="#0000ff"/>
<line x1="1335.00" y1="985.60" x2="1335.00" y2="1010.40" stroke="#0000ff" stroke-width="3.6" stroke-linecap="butt"/>
<line x1="1326.00" y1="985.60" x2="1344.00" y2="985.60" stroke="#0000ff" stroke-width="4" stroke-linecap="round"/>
<line x1="1326.00" y1="1010.40" x2="1344.00" y2="1010.40" stroke="#0000ff" stroke-width="4" stroke-linecap="round"/>
<polygon points="1335.00,1005.85 1344.00,988.35 1326.00,988.35" fill="#0000ff"/>
<line x1="1445.00" y1="979.60" x2="1445.00" y2="1013.00" stroke="#0000ff" stroke-width="3.6" stroke-linecap="butt"/>
<line x1="1436.00" y1="979.60" x2="1454.00" y2="979.60" stroke="#0000ff" stroke-width="4" stroke-linecap="round"/>
<line x1="1436.00" y1="1013.00" x2="1454.00" y2="1013.00" stroke="#0000ff" stroke-width="4" stroke-linecap="round"/>
<polygon points="1445.00,1004.25 1454.00,986.75 1436.00,986.75" fill="#0000ff"/>
<polyline points="1003.60,999.00 1114.20,1025.00 1224.40,1028.60 1335.00,1025.00 1445.00,1013.00" fill="none" stroke="#000" stroke-width="4.0" stroke-linejoin="miter"/>
<line x1="1003.60" y1="987.00" x2="1003.60" y2="1011.00" stroke="#000" stroke-width="3.6" stroke-linecap="butt"/>
<line x1="994.60" y1="987.00" x2="1012.60" y2="987.00" stroke="#000" stroke-width="4" stroke-linecap="round"/>
<line x1="994.60" y1="1011.00" x2="1012.60" y2="1011.00" stroke="#000" stroke-width="4" stroke-linecap="round"/>
<polygon points="1003.60,990.00 1012.20,999.00 1003.60,1008.00 995.00,999.00" fill="#000"/>
<line x1="1114.20" y1="1015.00" x2="1114.20" y2="1035.00" stroke="#000" stroke-width="3.6" stroke-linecap="butt"/>
<line x1="1105.20" y1="1015.00" x2="1123.20" y2="1015.00" stroke="#000" stroke-width="4" stroke-linecap="round"/>
<line x1="1105.20" y1="1035.00" x2="1123.20" y2="1035.00" stroke="#000" stroke-width="4" stroke-linecap="round"/>
<polygon points="1114.20,1016.00 1122.80,1025.00 1114.20,1034.00 1105.60,1025.00" fill="#000"/>
<line x1="1224.40" y1="1016.40" x2="1224.40" y2="1041.00" stroke="#000" stroke-width="3.6" stroke-linecap="butt"/>
<line x1="1215.40" y1="1016.40" x2="1233.40" y2="1016.40" stroke="#000" stroke-width="4" stroke-linecap="round"/>
<line x1="1215.40" y1="1041.00" x2="1233.40" y2="1041.00" stroke="#000" stroke-width="4" stroke-linecap="round"/>
<polygon points="1224.40,1019.60 1233.00,1028.60 1224.40,1037.60 1215.80,1028.60" fill="#000"/>
<polygon points="1335.00,1016.00 1343.60,1025.00 1335.00,1034.00 1326.40,1025.00" fill="#000"/>
<line x1="1445.00" y1="998.00" x2="1445.00" y2="1027.00" stroke="#000" stroke-width="3.6" stroke-linecap="butt"/>
<line x1="1436.00" y1="998.00" x2="1454.00" y2="998.00" stroke="#000" stroke-width="4" stroke-linecap="round"/>
<line x1="1436.00" y1="1027.00" x2="1454.00" y2="1027.00" stroke="#000" stroke-width="4" stroke-linecap="round"/>
<polygon points="1445.00,1004.00 1453.60,1013.00 1445.00,1022.00 1436.40,1013.00" fill="#000"/>
<polyline points="1003.60,1022.00 1114.20,949.50 1224.40,996.00 1335.00,1018.50 1445.00,1029.50" fill="none" stroke="#19bf08" stroke-width="4.0" stroke-linejoin="miter"/>
<polygon points="1003.60,1012.75 1012.60,1030.25 994.60,1030.25" fill="#19bf08"/>
<polygon points="1114.20,940.25 1123.20,957.75 1105.20,957.75" fill="#19bf08"/>
<polygon points="1224.40,986.75 1233.40,1004.25 1215.40,1004.25" fill="#19bf08"/>
<polygon points="1335.00,1009.25 1344.00,1026.75 1326.00,1026.75" fill="#19bf08"/>
<polygon points="1445.00,1020.25 1454.00,1037.75 1436.00,1037.75" fill="#19bf08"/>
<text transform="translate(1084.94,757.97) scale(1.0000,1)" font-size="42.42" fill="#f23a3e" font-family="'DejaVu Sans', 'Liberation Sans', sans-serif" letter-spacing="1.30">††</text>
<text transform="translate(1073.79,813.85) scale(1.0900,1)" font-size="55.43" fill="#f23a3e" letter-spacing="2.68">***</text>
<text transform="translate(1076.42,846.46) scale(1.0900,1)" font-size="54.29" fill="#3d3dfa" letter-spacing="3.05">***</text>
<text transform="translate(1088.82,1009.46) scale(1.0900,1)" font-size="54.29" fill="#19bf08" letter-spacing="4.29">**</text>
<line x1="250.10" y1="1360.70" x2="292.20" y2="1360.70" stroke="#000" stroke-width="3.9" stroke-linecap="round"/>
<polygon points="271.10,1354.85 276.69,1360.70 271.10,1366.55 265.51,1360.70" fill="#000"/>
<line x1="249.60" y1="1415.10" x2="291.90" y2="1415.10" stroke="#0000ff" stroke-width="3.9" stroke-linecap="round"/>
<polygon points="270.90,1420.46 276.93,1408.74 264.87,1408.74" fill="#0000ff"/>
<line x1="752.40" y1="1361.60" x2="794.70" y2="1361.60" stroke="#19bf08" stroke-width="3.9" stroke-linecap="round"/>
<polygon points="773.60,1355.24 779.63,1366.96 767.57,1366.96" fill="#19bf08"/>
<line x1="751.50" y1="1416.60" x2="793.80" y2="1416.60" stroke="#ff0000" stroke-width="3.9" stroke-linecap="round"/>
<rect x="766.86" y="1410.66" width="11.88" height="11.88" fill="#ff0000"/>
<text transform="translate(311.77,1372.20) scale(1.0078,1.0300)" font-size="33.8" fill="#000">RD/C</text>
<text transform="translate(397.58,1361.84) scale(0.9977,1.0300)" font-size="36" fill="#000">-</text>
<text transform="translate(416.23,1372.20) scale(0.9859,1.0300)" font-size="33.8" fill="#000">vehicle</text>
<text transform="translate(309.57,1426.50) scale(1.0078,1.0300)" font-size="33.8" fill="#000">RD/C</text>
<text transform="translate(395.64,1416.44) scale(0.9637,1.0300)" font-size="36" fill="#000">-</text>
<text transform="translate(411.60,1426.50) scale(1.0059,1.0300)" font-size="33.8" fill="#000">20 mg/kg morphine</text>
<text transform="translate(817.29,1372.20) scale(1.0027,1.0300)" font-size="33.8" fill="#000">RD/C</text>
<text transform="translate(902.21,1362.84) scale(0.9184,1.0300)" font-size="36" fill="#000">-</text>
<clipPath id="k12"><path clip-rule="evenodd" d="M-5000,-5000H5000V5000H-5000Z M2.03,-3.04h6.47v3.72h-6.47Z M11.48,-3.04h6.44v3.72h-6.44Z"/></clipPath>
<text transform="translate(920.89,1372.20) scale(1.0000,1.0300)" font-size="33.8" fill="#000" clip-path="url(#k12)">10 mg/kg morphine</text>
<text transform="translate(818.87,1426.50) scale(1.0063,1.0300)" font-size="33.8" fill="#000">SD/C</text>
<text transform="translate(901.69,1409.76) scale(1.0269,1.0300)" font-size="25.5" fill="#000">+</text>
<clipPath id="k13"><path clip-rule="evenodd" d="M-5000,-5000H5000V5000H-5000Z M2.03,-3.04h6.47v3.72h-6.47Z M11.48,-3.04h6.44v3.72h-6.44Z"/></clipPath>
<text transform="translate(920.89,1426.50) scale(1.0000,1.0300)" font-size="33.8" fill="#000" clip-path="url(#k13)">10 mg/kg morphine</text>
<line x1="240.00" y1="1455.50" x2="1237.00" y2="1455.50" stroke="#000" stroke-width="1.6" stroke-linecap="butt"/>
<text transform="translate(685.33,1511.10) scale(1.0153,1.0300)" font-size="39" fill="#140303">HbSS</text>
</svg>
</body></html>
